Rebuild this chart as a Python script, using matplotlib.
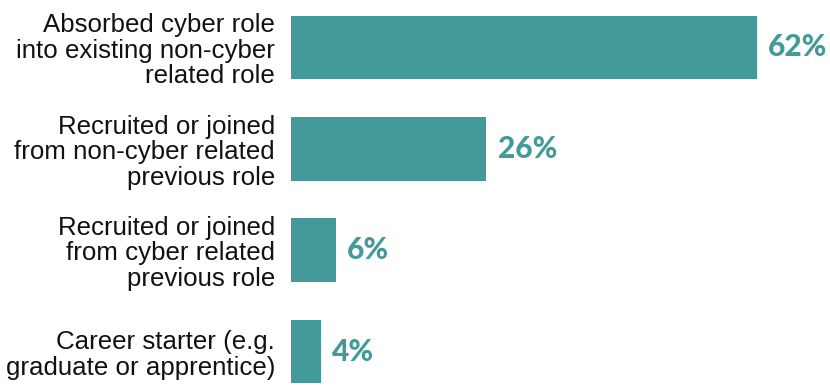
import matplotlib
matplotlib.use("Agg")
import matplotlib.pyplot as plt

categories = [
    "Absorbed cyber role\ninto existing non-cyber\nrelated role",
    "Recruited or joined\nfrom non-cyber related\nprevious role",
    "Recruited or joined\nfrom cyber related\nprevious role",
    "Career starter (e.g.\ngraduate or apprentice)",
]
values = [62, 26, 6, 4]

teal = "#439A99"

W, H, DPI = 830, 387, 100
fig = plt.figure(figsize=(W / DPI, H / DPI), dpi=DPI)
ax = fig.add_axes([291 / W, 0, 1 - 291 / W, 1])

pos = list(range(len(categories)))
ax.barh(pos, values, height=0.63, color=teal, edgecolor="none")

ax.set_xlim(0, 71.7)
ax.set_ylim(3.35, -0.468)

ax.set_yticks(pos)
ax.set_yticklabels(categories, fontsize=18.6, family="Liberation Sans",
                   color="#111111", linespacing=1.08, ha="right")
ax.tick_params(axis="y", length=0, pad=11.5)
ax.set_xticks([])
for s in ax.spines.values():
    s.set_visible(False)

for p, v in zip(pos, values):
    ax.annotate(f"{v}%", xy=(v, p), xytext=(8, 0), textcoords="offset points",
                ha="left", va="center", fontsize=21.5, fontweight="black",
                family="Lato", color=teal)

fig.savefig("out.png", dpi=DPI)
